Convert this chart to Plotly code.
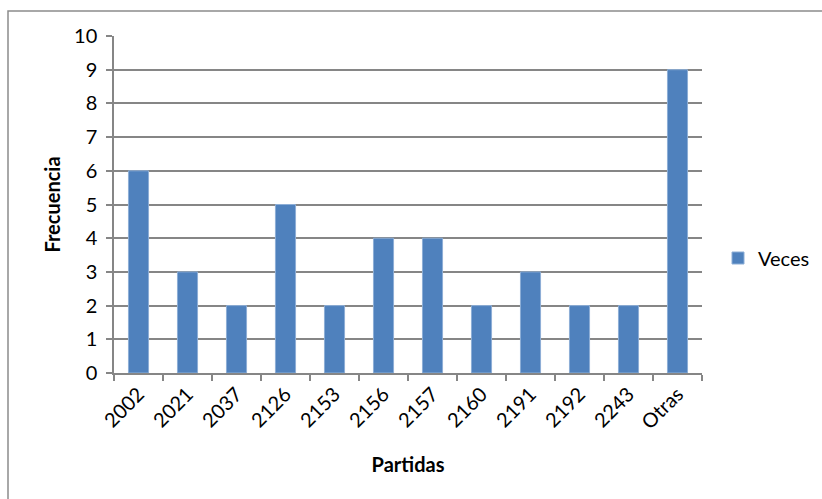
import plotly.graph_objects as go

# Frequency of each "partida"
partidas = ["2002", "2021", "2037", "2126", "2153", "2156", "2157",
            "2160", "2191", "2192", "2243", "Otras"]
veces = [6, 3, 2, 5, 2, 4, 4, 2, 3, 2, 2, 9]
y_ticks = list(range(0, 11))

W, H = 822, 499
L, R, T, B = 114, 120, 36, 126
pw, ph = W - L - R, H - T - B

font_family = "Lato, 'Open Sans', sans-serif"
grid_color = "#868686"
fs = 20

fig = go.Figure(
    go.Bar(
        x=partidas,
        y=veces,
        name="Veces",
        marker=dict(color="#4F81BD", line=dict(color="#8DAED6", width=1)),
        width=0.41,
    )
)

fig.update_layout(
    width=W,
    height=H,
    margin=dict(l=L, r=R, t=T, b=B, autoexpand=False),
    paper_bgcolor="white",
    plot_bgcolor="white",
    font=dict(family=font_family, size=fs, color="black"),
    showlegend=True,
    legend=dict(
        xref="container",
        yref="container",
        x=718 / W,
        y=1 - 258 / H,
        xanchor="left",
        yanchor="middle",
        font=dict(size=fs),
        bgcolor="rgba(0,0,0,0)",
        itemwidth=30,
    ),
    xaxis=dict(
        type="category",
        showgrid=False,
        showline=True,
        linecolor=grid_color,
        linewidth=1.5,
        ticks="outside",
        tickson="boundaries",
        ticklen=6,
        tickcolor=grid_color,
        tickwidth=1.5,
        tickangle=-45,
        tickfont=dict(size=fs),
        title=dict(text="<b>Partidas</b>", font=dict(size=fs), standoff=26),
    ),
    yaxis=dict(
        range=[0, 10],
        tickvals=y_ticks,
        showgrid=True,
        gridcolor=grid_color,
        gridwidth=1.5,
        zeroline=False,
        showline=True,
        linecolor=grid_color,
        linewidth=1.5,
        ticks="outside",
        ticklen=6,
        tickcolor=grid_color,
        tickwidth=1.5,
        ticklabelstandoff=5,
        tickfont=dict(size=fs),
        title=dict(text="<b>Frecuencia</b>", font=dict(size=fs), standoff=8),
    ),
    shapes=[
        dict(
            type="rect",
            xref="paper",
            yref="paper",
            x0=(8 - L) / pw,
            x1=1.6,
            y0=-0.6,
            y1=(373 - 11) / ph,
            line=dict(color="#8C8C8C", width=1.5),
            fillcolor="rgba(0,0,0,0)",
            layer="below",
        )
    ],
)

fig.write_html("out.html")
